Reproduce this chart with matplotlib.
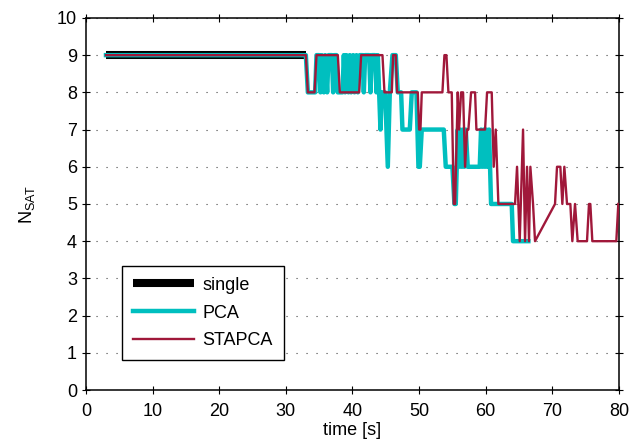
import matplotlib
matplotlib.use("Agg")
import matplotlib.pyplot as plt

plt.rcParams['font.family'] = ['Liberation Sans', 'DejaVu Sans']
plt.rcParams['mathtext.fontset'] = 'custom'
plt.rcParams['mathtext.rm'] = 'Liberation Sans'

# number of satellites used over time (breakpoints, linear between them)
single_t = [3.0, 33.0]
single_n = [9, 9]

pca_t = [3.0, 33.0, 33.3, 34.4, 34.6, 35.0, 35.2, 35.4, 35.7, 35.9, 36.2, 36.4,
         36.9, 37.1, 37.3, 37.6, 37.8, 38.5, 38.7, 38.9, 39.1, 39.4, 39.6, 39.8,
         40.1, 40.3, 40.6, 40.8, 41.1, 41.5, 41.7, 41.9, 42.5, 42.7, 42.9, 43.4,
         43.6, 43.8, 44.0, 44.2, 44.4, 44.9, 45.3, 45.6, 46.0, 46.5, 46.8, 47.3,
         47.5, 48.6, 48.9, 49.6, 49.9, 50.1, 50.4, 53.7, 54.0, 55.0, 55.3, 55.5,
         55.8, 56.0, 56.2, 56.4, 56.6, 56.8, 57.0, 57.3, 59.1, 59.3, 59.5, 59.7,
         59.9, 60.1, 60.3, 60.5, 60.8, 63.9, 64.1, 66.4]
pca_n = [9, 9, 8, 8, 9, 9, 8, 9, 8, 9, 8, 9,
         9, 8, 9, 9, 8, 8, 9, 8, 9, 8, 9, 8,
         9, 8, 9, 8, 9, 9, 8, 9, 9, 8, 9, 9,
         8, 9, 8, 7, 8, 8, 6, 8, 9, 9, 8, 8,
         7, 7, 8, 8, 6, 6, 7, 7, 6, 6, 5, 5,
         7, 6, 7, 6, 7, 6, 7, 6, 6, 7, 6, 7,
         6, 7, 6, 7, 5, 5, 4, 4]

stapca_t = [3.0, 33.0, 33.3, 34.3, 34.6, 37.8, 38.1, 41.0, 41.3, 44.5, 44.8, 45.9,
            46.1, 46.5, 46.7, 49.8, 50.0, 50.2, 50.4, 53.5, 53.8, 54.1, 54.4, 54.9,
            55.2, 55.4, 55.8, 56.0, 56.3, 56.6, 56.9, 57.2, 57.4, 57.8, 58.4, 58.6,
            59.9, 60.2, 60.9, 61.2, 61.5, 61.9, 64.4, 64.7, 65.1, 65.6, 65.9, 66.2,
            66.5, 66.7, 67.1, 67.4, 70.4, 70.7, 71.2, 71.5, 71.8, 72.2, 72.7, 73.0,
            73.4, 73.8, 75.2, 75.5, 75.7, 76.0, 79.6, 79.9]
stapca_n = [9, 9, 8, 8, 9, 9, 8, 8, 9, 9, 8, 8,
            9, 9, 8, 8, 7, 7, 8, 8, 9, 9, 8, 8,
            5, 5, 8, 7, 8, 8, 6, 7, 7, 8, 8, 7,
            7, 8, 8, 6, 7, 5, 5, 6, 4, 7, 4, 6,
            4, 6, 5, 4, 5, 6, 6, 5, 6, 5, 5, 4,
            5, 4, 4, 5, 5, 4, 4, 5]

fig = plt.figure(figsize=(6.3, 4.44), dpi=100)
ax = fig.add_axes([0.1365, 0.1216, 0.846, 0.838])

ax.plot(single_t, single_n, color='black', lw=5.8, solid_capstyle='butt', label='single', zorder=3)
ax.plot(pca_t, pca_n, color='#00bfbf', lw=3.2, label='PCA', zorder=4)
ax.plot(stapca_t, stapca_n, color='#a0183a', lw=1.7, label='STAPCA', zorder=5)

ax.set_xlim(0, 80)
ax.set_ylim(0, 10)
ax.set_xticks(range(0, 81, 10))
ax.set_yticks(range(0, 11))
ax.yaxis.grid(True, linestyle=(0, (1, 8)), color='#444444', lw=0.8)
ax.tick_params(direction='inout', length=6, width=0.8, labelsize=13,
               top=True, right=True, colors='black')
ax.tick_params(axis='x', pad=6)
for s in ax.spines.values():
    s.set_linewidth(1.1)

ax.set_xlabel('time [s]', fontsize=13, labelpad=2)
ax.set_ylabel(r'N$_{\mathrm{SAT}}$', fontsize=13, labelpad=14)

leg = ax.legend(loc='lower left', bbox_to_anchor=(0.0675, 0.08), borderaxespad=0,
                fontsize=13, handlelength=3.4, handletextpad=0.45, labelspacing=0.6,
                fancybox=False, framealpha=1, edgecolor='black', borderpad=0.6)
leg.get_frame().set_linewidth(1.0)

fig.savefig('out.png', dpi=100)
